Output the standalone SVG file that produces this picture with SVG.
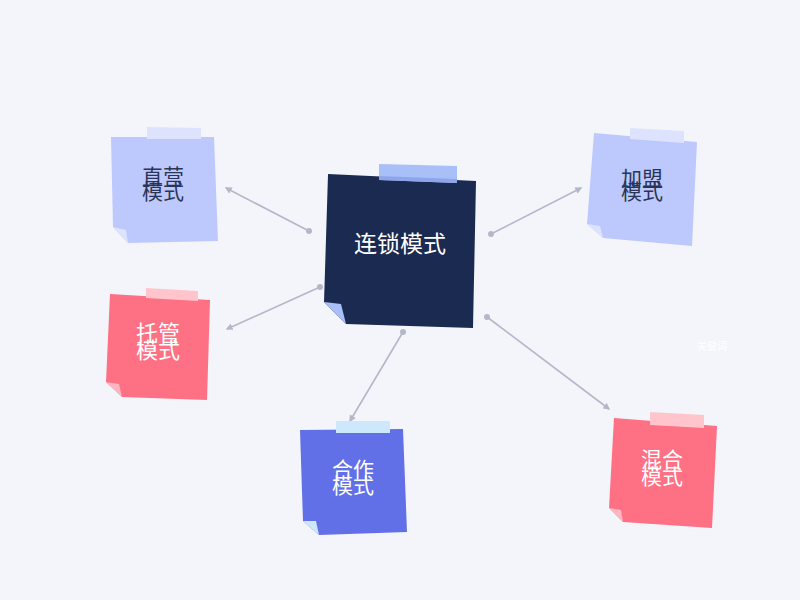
<svg xmlns="http://www.w3.org/2000/svg" width="800" height="600" viewBox="0 0 800 600">
<defs>
<style>
.t{font-family:"Noto Sans CJK SC","Noto Sans",sans-serif;font-size:21px;text-anchor:middle}
.dk{fill:#2A3556}
.wt{fill:#FFFFFF}
.ln{stroke:#B4B7C8;stroke-width:1.6;fill:none}
.dot{fill:#B4B7C8}
</style>
<marker id="ar" viewBox="0 0 10 10" refX="8" refY="5" markerWidth="7" markerHeight="7" orient="auto" markerUnits="userSpaceOnUse">
<path d="M0,0 L10,5 L0,10 z" fill="#B4B7C8"/>
</marker>
</defs>
<rect width="800" height="600" fill="#F3F5FB"/>
<g id="connectors">
<line class="ln" x1="309" y1="231" x2="226" y2="188" marker-end="url(#ar)"/>
<circle class="dot" cx="309" cy="231" r="3"/>
<line class="ln" x1="320" y1="287" x2="227" y2="329" marker-end="url(#ar)"/>
<circle class="dot" cx="320" cy="287" r="3"/>
<line class="ln" x1="491" y1="234" x2="581" y2="188" marker-end="url(#ar)"/>
<circle class="dot" cx="491" cy="234" r="3"/>
<line class="ln" x1="403" y1="332" x2="350" y2="421" marker-end="url(#ar)"/>
<circle class="dot" cx="403" cy="332" r="3"/>
<line class="ln" x1="487" y1="317" x2="609" y2="409" marker-end="url(#ar)"/>
<circle class="dot" cx="487" cy="317" r="3"/>
</g>
<g id="node-center">
<polygon points="328,174 476,181 473,328 346,324 324,302" fill="#1B2A50"/>
<polygon points="324,302 341,304 346,324" fill="#A9BFF7"/>
<polygon points="379,164 457,166 457,183 379,180" fill="#A9BFF7"/>
<polygon points="379,176 457,179 457,183 379,180" fill="#8EA5EC"/>
<text class="t wt" x="400" y="252" style="font-size:23px">连锁模式</text>
</g>
<g id="node-zhiying">
<polygon points="111,137 214,137 218,241 128,243 113,227" fill="#BDC9FD"/>
<polygon points="113,227 126,230 128,243" fill="#DDE3FD"/>
<polygon points="147,127 201,128 201,139 147,139" fill="#DDE3FD"/>
<text class="t dk" x="163" y="184">直营</text>
<text class="t dk" x="163" y="199">模式</text>
</g>
<g id="node-jiameng">
<polygon points="594,133 697,142 692,246 603,238 587,224" fill="#BDC9FD"/>
<polygon points="587,224 600,226 603,238" fill="#DDE3FD"/>
<polygon points="630,128 684,131 684,143 630,139" fill="#DDE3FD"/>
<text class="t dk" x="642" y="186">加盟</text>
<text class="t dk" x="642" y="199">模式</text>
</g>
<g id="node-tuoguan">
<polygon points="110,294 210,300 207,400 122,397 106,382" fill="#FE7083"/>
<polygon points="106,382 119,384 122,397" fill="#FFB6C0"/>
<polygon points="146,288 198,291 198,301 146,298" fill="#FFC4CC"/>
<text class="t wt" x="158" y="341" style="font-size:22px">托管</text>
<text class="t wt" x="158" y="358" style="font-size:22px">模式</text>
</g>
<g id="node-hezuo">
<polygon points="300,430 403,429 407,532 319,535 303,521" fill="#6170E6"/>
<polygon points="303,521 316,521 319,535" fill="#CDE7FB"/>
<polygon points="336,421 390,421 390,433 336,433" fill="#CDE7FB"/>
<text class="t wt" x="353" y="477">合作</text>
<text class="t wt" x="353" y="493">模式</text>
</g>
<g id="node-hunhe">
<polygon points="614,418 717,426 712,528 623,522 609,508" fill="#FE7083"/>
<polygon points="609,508 621,510 623,522" fill="#FFB6C0"/>
<polygon points="650,412 704,415 704,428 650,425" fill="#FFC4CC"/>
<text class="t wt" x="662" y="467">混合</text>
<text class="t wt" x="662" y="484">模式</text>
</g>
<text x="712" y="350" style="font-family:'Noto Sans CJK SC',sans-serif;font-size:10px;text-anchor:middle" fill="#FFFFFF">关键词</text>
</svg>
